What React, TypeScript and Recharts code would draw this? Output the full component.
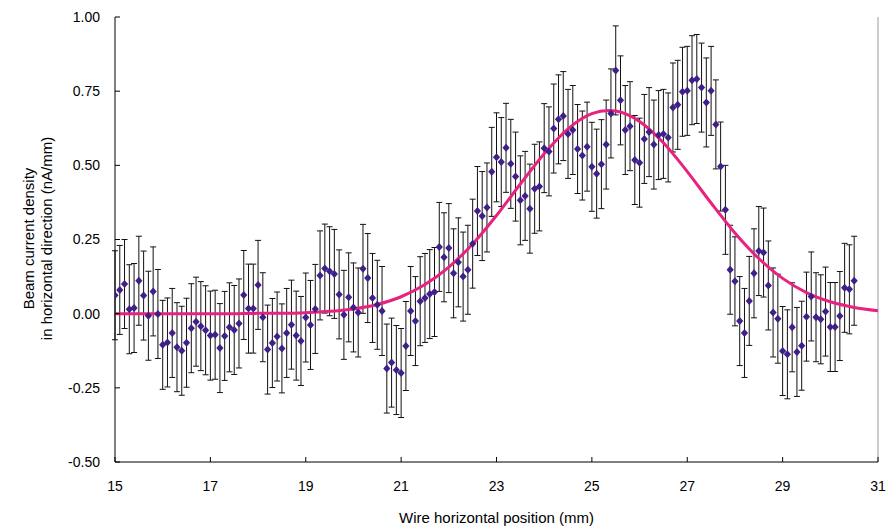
import React from 'react';
import { ComposedChart, Scatter, Line, XAxis, YAxis, ErrorBar, ReferenceLine } from 'recharts';

// Wire horizontal position (mm)
const positions = [
  15.0, 15.1, 15.2, 15.3, 15.4, 15.5, 15.6, 15.7, 15.8, 15.9,
  16.0, 16.1, 16.2, 16.3, 16.4, 16.5, 16.6, 16.7, 16.8, 16.9,
  17.0, 17.1, 17.2, 17.3, 17.4, 17.5, 17.6, 17.7, 17.8, 17.9,
  18.0, 18.1, 18.2, 18.3, 18.4, 18.5, 18.6, 18.7, 18.8, 18.9,
  19.0, 19.1, 19.2, 19.3, 19.4, 19.5, 19.6, 19.7, 19.8, 19.9,
  20.0, 20.1, 20.2, 20.3, 20.4, 20.5, 20.6, 20.7, 20.8, 20.9,
  21.0, 21.1, 21.2, 21.3, 21.4, 21.5, 21.6, 21.7, 21.8, 21.9,
  22.0, 22.1, 22.2, 22.3, 22.4, 22.5, 22.6, 22.7, 22.8, 22.9,
  23.0, 23.1, 23.2, 23.3, 23.4, 23.5, 23.6, 23.7, 23.8, 23.9,
  24.0, 24.1, 24.2, 24.3, 24.4, 24.5, 24.6, 24.7, 24.8, 24.9,
  25.0, 25.1, 25.2, 25.3, 25.4, 25.5, 25.6, 25.7, 25.8, 25.9,
  26.0, 26.1, 26.2, 26.3, 26.4, 26.5, 26.6, 26.7, 26.8, 26.9,
  27.0, 27.1, 27.2, 27.3, 27.4, 27.5, 27.6, 27.7, 27.8, 27.9,
  28.0, 28.1, 28.2, 28.3, 28.4, 28.5, 28.6, 28.7, 28.8, 28.9,
  29.0, 29.1, 29.2, 29.3, 29.4, 29.5, 29.6, 29.7, 29.8, 29.9,
  30.0, 30.1, 30.2, 30.3, 30.4, 30.5,
];

// Beam current density (nA/mm)
const density = [
  0.062, 0.080, 0.100, 0.015, 0.019, 0.111, 0.061, -0.007, 0.075, -0.001,
  -0.105, -0.097, -0.065, -0.113, -0.125, -0.098, -0.049, -0.027, -0.042, -0.056,
  -0.074, -0.071, -0.116, -0.075, -0.046, -0.055, -0.033, 0.063, 0.017, 0.017,
  0.097, -0.012, -0.121, -0.099, -0.077, -0.117, -0.065, -0.037, -0.074, -0.092,
  -0.013, -0.038, 0.016, 0.129, 0.152, 0.143, 0.134, 0.065, -0.004, 0.055,
  0.021, 0.004, 0.151, 0.120, 0.053, 0.030, 0.009, -0.185, -0.165, -0.190,
  -0.200, -0.109, 0.009, -0.025, 0.042, 0.053, 0.066, 0.073, 0.225, 0.190,
  0.221, 0.136, 0.173, 0.125, 0.148, 0.236, 0.346, 0.329, 0.358, 0.478,
  0.527, 0.511, 0.559, 0.505, 0.462, 0.382, 0.397, 0.354, 0.421, 0.429,
  0.558, 0.547, 0.624, 0.655, 0.666, 0.606, 0.619, 0.555, 0.533, 0.563,
  0.495, 0.472, 0.504, 0.570, 0.675, 0.820, 0.719, 0.619, 0.632, 0.518,
  0.509, 0.589, 0.612, 0.570, 0.602, 0.606, 0.594, 0.695, 0.704, 0.748,
  0.751, 0.787, 0.791, 0.762, 0.712, 0.751, 0.638, 0.496, 0.350, 0.148,
  0.109, -0.025, -0.065, 0.043, 0.136, 0.211, 0.206, 0.095, 0.004, -0.017,
  -0.126, -0.137, -0.046, -0.129, -0.108, -0.010, 0.058, -0.012, -0.019, 0.007,
  -0.045, -0.045, -0.008, 0.087, 0.082, 0.111,
];

const ERROR = 0.15;

// Fitted curve samples
const fitX = [
  15, 15.5, 16, 16.5, 17, 17.5, 18, 18.5, 19, 19.5, 20, 20.5, 21, 21.5, 22, 22.5,
  23, 23.5, 24, 24.5, 25, 25.35, 25.5, 26, 26.5, 27, 27.5, 28, 28.5, 29, 29.5, 30, 30.5, 31,
];
const fitY = [
  0.000, 0.000, 0.000, 0.000, 0.000, 0.000, 0.001, 0.001, 0.003, 0.008, 0.016, 0.031, 0.057, 0.098, 0.157, 0.235,
  0.331, 0.437, 0.539, 0.623, 0.674, 0.685, 0.683, 0.648, 0.576, 0.479, 0.373, 0.272, 0.186, 0.119, 0.071, 0.040, 0.021, 0.010,
];

const xTicks = [15, 17, 19, 21, 23, 25, 27, 29, 31];
const yTicks = [-0.5, -0.25, 0, 0.25, 0.5, 0.75, 1.0];

const points = positions.map((x, i) => ({ x, y: density[i], err: ERROR }));
const fit = fitX.map((x, i) => ({ x, y: fitY[i] }));

const FONT = '"Liberation Sans", Arial, Helvetica, sans-serif';

const Diamond = (props: any) => {
  const { cx, cy } = props;
  if (cx == null || cy == null) return <g />;
  return (
    <polygon
      points={`${cx},${cy - 4} ${cx + 3.6},${cy} ${cx},${cy + 4} ${cx - 3.6},${cy}`}
      fill="#3f1f88"
    />
  );
};

const Empty = () => <g />;

const XLabel = (props: any) => {
  const vb = props.viewBox || {};
  return (
    <text
      x={vb.x + vb.width / 2}
      y={vb.y + 61}
      textAnchor="middle"
      fontSize={15}
      fontFamily={FONT}
      fill="#000"
    >
      Wire horizontal position (mm)
    </text>
  );
};

const YLabel = (props: any) => {
  const vb = props.viewBox || {};
  const cy = vb.y + vb.height / 2 - 1;
  return (
    <g fontSize={15} fontFamily={FONT} fill="#000">
      <text
        x={28.5}
        y={cy}
        transform={`rotate(-90 28.5 ${cy})`}
        textAnchor="middle"
        dominantBaseline="central"
      >
        Beam current density
      </text>
      <text
        x={46}
        y={cy}
        transform={`rotate(-90 46 ${cy})`}
        textAnchor="middle"
        dominantBaseline="central"
      >
        in horizontal direction (nA/mm)
      </text>
    </g>
  );
};

export default function App() {
  return (
    <div style={{ position: 'absolute', left: 0, top: 0, background: '#fff' }}>
      <ComposedChart
        width={888}
        height={529}
        margin={{ top: 17, right: 10, left: 0, bottom: 0 }}
        style={{ fontFamily: FONT }}
      >
        <XAxis
          type="number"
          dataKey="x"
          domain={[15, 31]}
          ticks={xTicks}
          allowDataOverflow
          height={67}
          tickSize={-5}
          tickMargin={24}
          axisLine={{ stroke: '#000' }}
          tickLine={{ stroke: '#000' }}
          tick={{ fontSize: 14, fill: '#000', fontFamily: FONT }}
          label={{ content: XLabel }}
        />
        <YAxis
          type="number"
          dataKey="y"
          domain={[-0.5, 1]}
          ticks={yTicks}
          allowDataOverflow
          width={115}
          tickSize={-5}
          tickMargin={20}
          axisLine={{ stroke: '#000' }}
          tickLine={{ stroke: '#000' }}
          tick={{ fontSize: 14, fill: '#000', fontFamily: FONT }}
          tickFormatter={(v: number) => v.toFixed(2)}
          label={{ content: YLabel }}
        />
        <ReferenceLine x={31} stroke="#9a9a9a" strokeWidth={1} />
        <Scatter data={points} dataKey="y" shape={Empty} isAnimationActive={false}>
          <ErrorBar dataKey="err" direction="y" width={3} stroke="#111" strokeWidth={1} isAnimationActive={false} />
        </Scatter>
        <Line
          data={fit}
          dataKey="y"
          type="monotoneX"
          stroke="#e8237f"
          strokeWidth={3}
          dot={false}
          activeDot={false}
          isAnimationActive={false}
        />
        <Scatter data={points} dataKey="y" shape={Diamond} isAnimationActive={false} />
      </ComposedChart>
    </div>
  );
}
